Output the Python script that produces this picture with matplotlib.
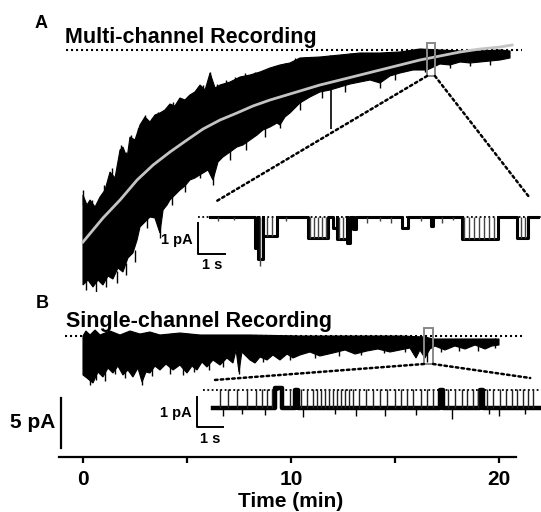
import numpy as np
import matplotlib
matplotlib.use("Agg")
import matplotlib.pyplot as plt
from matplotlib.patches import Rectangle, ConnectionPatch

plt.rcParams['font.family'] = ['Liberation Sans', 'DejaVu Sans']
plt.rcParams['font.weight'] = 'bold'

# ---- panel A: multi-channel recording (min, pA) ----
a_top_t = [0.00, 0.19, 0.34, 0.58, 0.82, 1.06, 1.30, 1.54, 1.78, 1.92, 2.12, 2.26, 2.50, 2.74,
           2.98, 3.22, 3.46, 3.70, 3.94, 4.18, 4.42, 4.66, 4.90, 5.14, 5.38, 5.63, 5.87, 6.11,
           6.35, 6.59, 7.07, 7.55, 8.03, 8.51, 8.99, 9.47, 9.95, 10.43, 11.39, 12.36, 13.32,
           14.28, 15.24, 16.20, 17.16, 18.13, 19.09, 20.05, 20.53]
a_top_y = [-14.5, -15.5, -15.0, -15.7, -14.7, -14.0, -12.2, -12.8, -10.0, -9.7, -10.8, -8.7,
           -9.0, -7.5, -6.7, -7.2, -6.5, -6.3, -6.0, -5.4, -5.6, -4.8, -5.0, -4.5, -4.2, -3.5,
           -4.0, -2.3, -3.8, -3.5, -3.2, -2.7, -2.5, -2.2, -1.8, -1.5, -1.3, -0.8, -0.7, -0.5,
           -0.3, -0.3, -0.2, 0.1, 0.0, -0.1, -0.1, 0.0, -0.1]
a_bot_t = [0.00, 0.24, 0.48, 0.72, 0.96, 1.20, 1.44, 1.68, 1.92, 2.16, 2.40, 2.60, 2.74, 2.98,
           3.22, 3.46, 3.70, 3.85, 4.04, 4.18, 4.42, 4.66, 4.90, 5.14, 5.38, 5.77, 6.01, 6.25,
           6.49, 6.73, 7.07, 7.40, 7.69, 8.03, 8.37, 8.65, 8.99, 9.33, 9.47, 9.71, 9.95, 10.19,
           10.43, 10.91, 11.39, 11.88, 12.36, 12.84, 13.32, 13.80, 14.28, 14.76, 15.24, 15.87,
           16.54, 17.16, 17.64, 18.13, 18.61, 19.09, 19.57, 20.05, 20.53]
a_bot_y = [-23.5, -23.0, -23.7, -23.0, -23.5, -22.6, -22.9, -21.8, -22.2, -20.8, -20.3, -19.0,
           -17.7, -17.2, -16.7, -16.8, -18.3, -16.0, -15.5, -15.0, -14.5, -14.0, -13.6, -13.0,
           -12.8, -12.3, -12.0, -13.0, -11.2, -10.7, -10.2, -9.7, -9.5, -9.0, -8.5, -8.0, -7.7,
           -7.3, -7.5, -6.7, -6.3, -5.8, -5.3, -4.7, -4.2, -4.0, -3.7, -3.4, -3.2, -3.0, -3.3,
           -2.6, -2.3, -2.0, -2.0, -1.4, -1.5, -1.2, -1.3, -1.2, -1.1, -1.0, -0.8]
# hair-like spikes sticking out of the band
a_up_t = [0.00, 0.43, 1.01, 1.39, 1.83, 2.07, 2.31, 2.64, 2.98, 3.32, 3.61, 3.99, 4.33, 4.71,
          5.05, 5.43, 5.77, 6.11, 6.44, 6.88, 7.31, 7.79, 8.27, 8.75, 9.23, 9.71, 10.19,
          10.67, 11.88, 12.84]
a_up_y = [-14.0, -15.0, -13.5, -11.8, -9.5, -10.2, -8.5, -7.8, -6.5, -6.8, -6.2, -5.8, -5.2,
          -4.8, -4.6, -4.0, -3.5, -2.2, -3.4, -3.0, -2.7, -2.3, -2.2, -2.0, -1.6, -1.3, -0.8,
          -0.7, -0.5, -0.3]
a_dn_t = [0.14, 0.63, 1.11, 1.63, 2.07, 2.50, 3.08, 3.70, 4.28, 4.90, 5.63, 6.25, 7.07, 7.84,
          8.75, 9.47, 10.43, 11.49, 12.60, 14.28, 15.00, 16.44, 17.64, 18.61, 19.57]
a_dn_y = [-24.0, -24.2, -23.7, -23.3, -22.5, -21.2, -17.8, -18.8, -15.5, -14.2, -12.8, -13.5,
          -11.0, -10.0, -8.7, -7.8, -6.0, -4.8, -4.2, -3.8, -3.0, -2.2, -1.8, -1.6, -1.5]
a_spike_t = [11.92]
a_spike_y = [-7.9]
fit_t = [0.00, 0.96, 1.78, 2.60, 3.37, 4.18, 5.00, 5.77, 6.59, 7.40, 8.17, 8.99, 9.95, 11.39,
         12.36, 13.32, 14.28, 15.24, 16.20, 17.16, 18.13, 19.09, 20.05, 20.63]
fit_y = [-19.2, -16.8, -15.0, -13.0, -11.5, -10.2, -9.0, -7.9, -7.0, -6.3, -5.6, -5.0, -4.4,
         -3.5, -3.0, -2.5, -2.0, -1.5, -1.0, -0.6, -0.2, 0.1, 0.3, 0.5]

# ---- inset A (s, pA) ----
ia_start = [1.67, 1.78, 1.95, 3.64, 4.55, 4.69, 5.06, 5.30, 7.10, 8.20, 9.32, 11.36]
ia_end = [1.78, 1.95, 2.47, 4.38, 4.69, 5.06, 5.20, 5.40, 7.35, 8.26, 10.68, 11.79]
ia_level = [-1.0, -1.35, -0.62, -0.68, -0.35, -0.72, -0.85, -0.4, -0.35, -0.3, -0.72, -0.68]
ia_spike_t = [0.3, 0.9, 1.85, 2.12, 2.3, 2.8, 3.72, 3.85, 4.0, 4.15, 4.28, 4.78, 4.92, 5.8,
              6.3, 6.7, 7.8, 8.6, 9.0, 9.42, 9.6, 9.78, 9.98, 10.15, 10.35, 10.52, 11.5, 11.65]
ia_spike_y = [-0.15, -0.12, -1.6, -0.62, -0.62, -0.15, -0.68, -0.68, -0.68, -0.68, -0.68, -0.72,
              -0.72, -0.2, -0.15, -0.2, -0.15, -0.2, -0.12, -0.72, -0.72, -0.72, -0.72, -0.72,
              -0.72, -0.72, -0.68, -0.68]
ia_end_t = 12.15

# ---- panel B: single-channel recording (min, pA) ----
b_top_t = [0.00, 0.14, 0.34, 0.58, 0.82, 1.30, 1.78, 2.26, 2.74, 3.22, 3.70, 4.66, 5.63, 8.03,
           10.43, 15.24, 16.44, 16.83, 20.00]
b_top_y = [0.0, 0.5, 0.1, 0.6, 0.1, 0.5, 0.1, 0.5, 0.2, 0.4, 0.1, 0.3, 0.1, 0.1, 0.0, 0.0,
           -0.1, -0.3, -0.3]
b_bot_t = [0.00, 0.19, 0.48, 0.72, 0.96, 1.20, 1.44, 1.68, 1.92, 2.16, 2.40, 2.64, 2.84, 3.03,
           3.22, 3.46, 3.70, 3.99, 4.33, 4.66, 5.00, 5.24, 5.48, 5.72, 5.96, 6.25, 6.59, 6.92,
           7.21, 7.36, 7.50, 7.64, 8.03, 8.27, 8.51, 8.85, 9.13, 9.47, 9.81, 10.10, 10.43,
           10.91, 11.39, 12.02, 12.60, 13.08, 13.65, 14.18, 14.76, 15.24, 15.72, 16.01, 16.20,
           16.44, 16.68, 16.92, 17.40, 17.88, 18.37, 18.85, 19.33, 19.66, 20.00]
b_bot_y = [-3.9, -4.2, -4.7, -3.6, -4.1, -3.2, -3.7, -3.0, -3.9, -3.4, -4.1, -3.2, -4.6, -3.6,
           -3.7, -3.0, -3.4, -2.8, -3.4, -2.9, -3.7, -3.0, -3.4, -2.6, -3.1, -2.4, -2.9, -2.2,
           -2.7, -1.4, -3.6, -1.6, -2.4, -2.7, -2.1, -2.4, -1.9, -2.4, -1.8, -2.2, -1.9, -1.6,
           -2.0, -1.7, -1.4, -1.8, -1.5, -1.3, -1.6, -1.4, -1.2, -2.2, -1.4, -2.2, -1.3, -1.0,
           -1.4, -1.0, -1.3, -0.9, -1.3, -1.0, -0.9]
b_dn_t = [0.34, 0.63, 1.06, 1.54, 2.02, 2.84, 3.32, 4.18, 4.81, 5.34, 6.06, 6.73, 7.50, 8.65,
          9.95, 11.15, 12.32, 13.36, 14.47, 15.50, 16.55, 17.20, 18.10, 19.00, 19.80]
b_dn_y = [-4.9, -4.4, -4.5, -3.8, -4.2, -4.9, -4.0, -3.8, -3.9, -3.6, -3.4, -3.1, -3.8, -2.6,
          -2.4, -2.2, -2.0, -1.9, -1.7, -1.6, -2.6, -1.6, -1.5, -1.5, -1.2]

# ---- inset B (s, pA) ----
ib_open = -0.6
ib_start = [2.38, 3.15, 8.73, 10.27]
ib_end = [2.65, 3.28, 8.85, 10.38]
ib_level = [0.08, 0.0, 0.0, 0.0]
ib_flick_t = [0.27, 0.59, 0.93, 1.30, 1.65, 1.87, 2.09, 2.25, 2.96, 3.37, 3.60, 3.83, 3.99,
              4.14, 4.31, 4.46, 4.60, 4.76, 4.91, 5.08, 5.23, 5.40, 5.63, 5.88, 6.14, 6.42,
              6.71, 7.00, 7.22, 7.45, 7.70, 7.99, 8.22, 8.47, 9.05, 9.31, 9.57, 9.78, 10.01,
              10.20, 10.53, 10.78, 11.04, 11.27, 11.49, 11.68, 11.91, 12.13, 12.32]
ib_down_t = [0.4, 1.1, 2.0, 3.45, 4.7, 5.5, 6.60, 7.8, 9.18, 10.6, 11.00, 12.0]
ib_down_y = [-0.85, -0.8, -0.82, -0.9, -0.8, -0.85, -0.85, -0.82, -0.98, -0.8, -0.85, -0.8]
ib_end_t = 12.6


def step_trace(t1, starts, ends, levels, base):
    t, y = [0.0], [base]
    for s, e, l in zip(starts, ends, levels):
        t += [s, s, e, e]
        y += [base, l, l, base]
    t.append(t1)
    y.append(base)
    return t, y


W, H = 541, 512
fig = plt.figure(figsize=(W / 100, H / 100), dpi=100)


def px_axes(x0, x1, y0, y1):
    ax = fig.add_axes([x0 / W, 1 - y1 / H, (x1 - x0) / W, (y1 - y0) / H])
    ax.set_facecolor('none')
    return ax


ppm = 20.8  # px per minute
ppa = 10.0  # px per pA
x0_px = 83

ax_a = px_axes(40, 541, 38, 292)
ax_a.set_xlim((40 - x0_px) / ppm, (541 - x0_px) / ppm)
ax_a.set_ylim(-(292 - 50) / ppa, (50 - 38) / ppa)
ax_a.axis('off')

ax_b = px_axes(40, 541, 320, 457)
ax_b.set_xlim((40 - x0_px) / ppm, (541 - x0_px) / ppm)
ax_b.set_ylim(-(457 - 336) / ppa, (336 - 320) / ppa)

# panel A
ax_a.plot([-0.82, 21.1], [0, 0], color='black', lw=1.5, ls=(0, (1, 1.4)))
ax_a.fill(np.concatenate([a_top_t, a_bot_t[::-1]]), np.concatenate([a_top_y, a_bot_y[::-1]]),
          color='black', lw=0.8)
ax_a.vlines(a_up_t, a_up_y, np.array(a_up_y) - 1.5, color='black', lw=1.0)
ax_a.vlines(a_dn_t, a_dn_y, np.array(a_dn_y) + 1.2, color='black', lw=1.0)
ax_a.vlines(a_spike_t, a_spike_y, -3.8, color='black', lw=1.2)
ax_a.plot(fit_t, fit_y, color='#c4c4c4', lw=2.0)
ax_a.add_patch(Rectangle((16.54, -2.6), 0.38, 3.3, fill=False, ec='#888888', lw=1.4, zorder=5))

# panel B
ax_b.plot([-0.87, 21.1], [0, 0], color='black', lw=1.5, ls=(0, (1, 1.4)))
ax_b.fill(np.concatenate([b_top_t, b_bot_t[::-1]]), np.concatenate([b_top_y, b_bot_y[::-1]]),
          color='black', lw=0.8)
ax_b.vlines(b_dn_t, b_dn_y, np.array(b_dn_y) + 1.0, color='black', lw=1.0)
ax_b.add_patch(Rectangle((16.39, -2.8), 0.44, 3.6, fill=False, ec='#888888', lw=1.4, zorder=5))
ax_b.plot([-1.06, -1.06], [-6.2, -11.2], color='black', lw=1.6, clip_on=False)
ax_b.text(-1.35, -8.7, '5 pA', ha='right', va='center', fontsize=15, clip_on=False)

for s in ['top', 'left', 'right']:
    ax_b.spines[s].set_visible(False)
ax_b.spines['bottom'].set_linewidth(1.6)
ax_b.spines['bottom'].set_bounds((59 - x0_px) / ppm, (516 - x0_px) / ppm)
ax_b.set_yticks([])
ax_b.set_xticks([0, 10, 20])
ax_b.set_xticks([5, 15], minor=True)
ax_b.tick_params(axis='x', which='both', length=4.5, width=1.6, labelsize=15, pad=5)
ax_b.set_xlabel('Time (min)', fontsize=15, fontweight='bold', labelpad=2)

# inset A
ax_ia = px_axes(160, 541, 195, 275)
ax_ia.set_xlim((160 - 210) / 27, (541 - 210) / 27)
ax_ia.set_ylim(-(275 - 216.7) / 31, (216.7 - 195) / 31)
ax_ia.axis('off')
ax_ia.plot([-0.44, 12.3], [0, 0], color='black', lw=1.3, ls=(0, (1, 1.4)))
t, y = step_trace(ia_end_t, ia_start, ia_end, ia_level, 0.0)
ax_ia.plot(t, y, color='black', lw=2.2)
ax_ia.vlines(ia_spike_t, ia_spike_y, 0, color='#444444', lw=1.0)
ax_ia.plot([-0.44, -0.44, 0.56], [-0.2, -1.2, -1.2], color='black', lw=1.4)
ax_ia.text(-0.63, -0.75, '1 pA', ha='right', va='center', fontsize=10.5)
ax_ia.text(0.07, -1.56, '1 s', ha='center', va='center', fontsize=10.5)

# inset B
ax_ib = px_axes(150, 541, 372, 450)
ax_ib.set_xlim((150 - 213) / 26, (541 - 213) / 26)
ax_ib.set_ylim(-(450 - 390) / 30, (390 - 372) / 30)
ax_ib.axis('off')
ax_ib.plot([-0.38, 12.6], [0, 0], color='black', lw=1.3, ls=(0, (1, 1.4)))
t, y = step_trace(ib_end_t, ib_start, ib_end, ib_level, ib_open)
ax_ib.plot(t, y, color='black', lw=3.2)
ax_ib.vlines(ib_flick_t, ib_open, 0.02, color='#222222', lw=1.0)
ax_ib.vlines(ib_down_t, ib_down_y, ib_open, color='black', lw=1.0)
ax_ib.plot([-0.62, -0.62, 0.38], [-0.23, -1.23, -1.23], color='black', lw=1.4)
ax_ib.text(-0.81, -0.77, '1 pA', ha='right', va='center', fontsize=10.5)
ax_ib.text(-0.12, -1.63, '1 s', ha='center', va='center', fontsize=10.5)

# zoom connectors
for xa, ya, xb, yb, axs, axd in [(16.54, -2.6, 0.18, 0.47, ax_a, ax_ia),
                                 (16.92, -2.6, 11.85, 0.6, ax_a, ax_ia),
                                 (16.39, -2.8, 0.0, 0.33, ax_b, ax_ib),
                                 (16.83, -2.8, 12.2, 0.4, ax_b, ax_ib)]:
    con = ConnectionPatch(xyA=(xa, ya), coordsA=axs.transData, xyB=(xb, yb),
                          coordsB=axd.transData, color='black', lw=1.8, ls=(0, (1, 1.3)))
    fig.add_artist(con)

fig.text(35 / W, 1 - 28 / H, 'A', fontsize=13, va='baseline')
fig.text(65 / W, 1 - 43 / H, 'Multi-channel Recording', fontsize=15.5, va='baseline')
fig.text(36 / W, 1 - 308 / H, 'B', fontsize=13, va='baseline')
fig.text(66 / W, 1 - 327 / H, 'Single-channel Recording', fontsize=15.5, va='baseline')

fig.savefig('out.png', dpi=100)
